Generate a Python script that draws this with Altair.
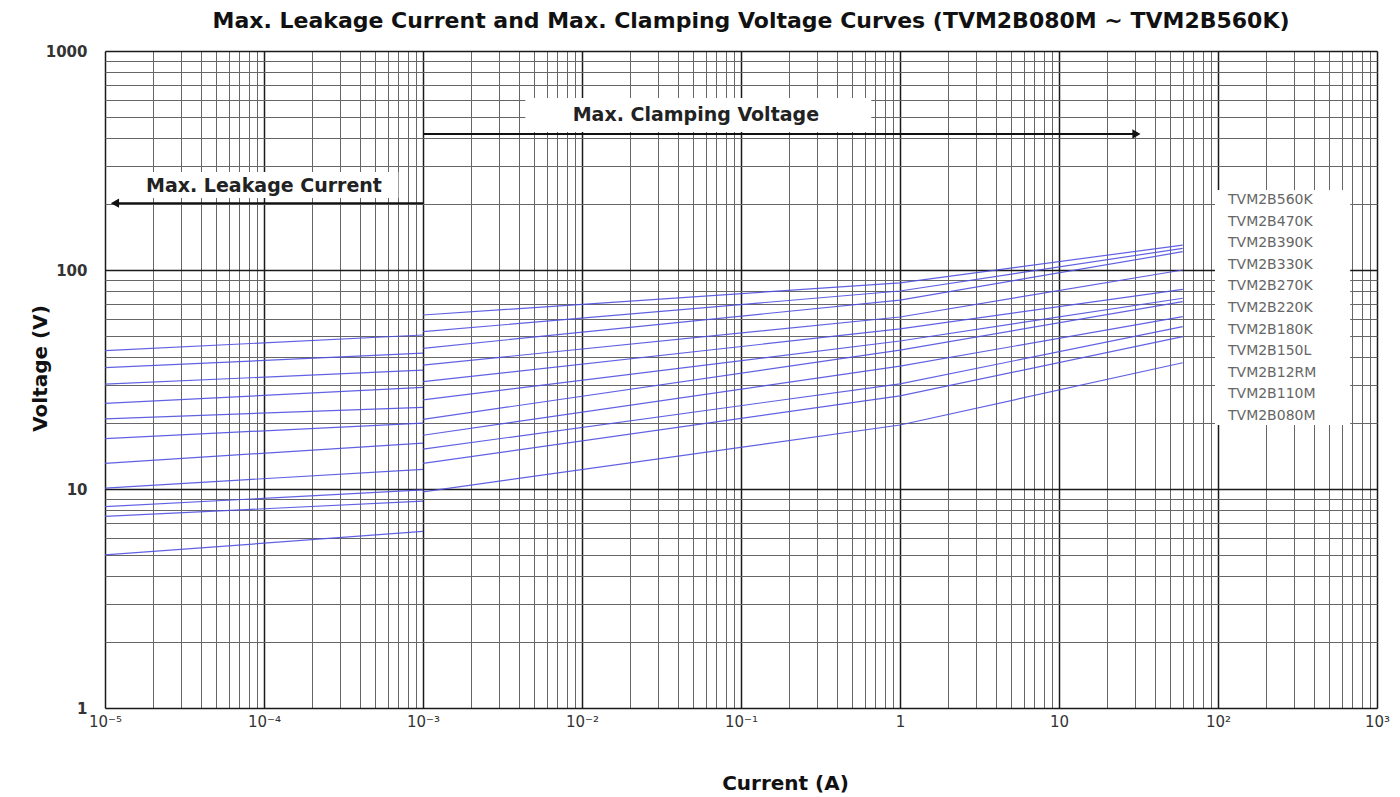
import altair as alt
import pandas as pd

# ---------------- data ----------------
series_names = ["TVM2B560K", "TVM2B470K", "TVM2B390K", "TVM2B330K", "TVM2B270K",
                "TVM2B220K", "TVM2B180K", "TVM2B150L", "TVM2B12RM", "TVM2B110M",
                "TVM2B080M"]

# Max. leakage current curves (current in A, voltage in V)
leak_current = [1e-5, 1e-3]
leak_v_at_10uA = [42.8, 35.8, 30.1, 24.6, 20.9, 17.0, 13.1, 10.1, 8.3, 7.5, 5.0]
leak_v_at_1mA = [50.5, 41.7, 34.9, 29.1, 23.6, 20.0, 16.2, 12.3, 9.9, 8.8, 6.4]

# Max. clamping voltage curves
clamp_current = [1e-3, 1.0, 60.0]
clamp_v_at_1mA = [62.3, 52.3, 43.9, 36.8, 30.9, 25.5, 20.8, 17.6, 15.2, 13.1, 9.7]
clamp_v_at_1A = [87.3, 80.2, 72.9, 61.0, 53.8, 47.4, 43.1, 36.4, 30.2, 26.6, 19.6]
clamp_v_at_60A = [130.0, 125.6, 121.2, 100.0, 81.6, 74.3, 71.7, 61.2, 55.1, 49.6, 37.7]

x_tick_exponents = [-5, -4, -3, -2, -1, 0, 1, 2, 3]
x_tick_labels = ["10⁻⁵", "10⁻⁴", "10⁻³", "10⁻²", "10⁻¹", "1", "10", "10²", "10³"]
y_tick_exponents = [0, 1, 2, 3]
y_tick_labels = ["1", "10", "100", "1000"]

title_text = "Max. Leakage Current and Max. Clamping Voltage Curves (TVM2B080M ~ TVM2B560K)"

# annotations (data coordinates)
clamp_text = ["Max. Clamping Voltage"]
clamp_text_pos = [0.052, 510.0]
clamp_box = [0.0044, 0.66, 427.0, 610.0]
clamp_arrow = [1e-3, 30.7, 418.0]

leak_text = ["Max. Leakage Current"]
leak_text_pos = [1.0e-4, 242.0]
leak_box = [1.44e-5, 7.0e-4, 213.0, 280.0]
leak_arrow = [1.155e-5, 1e-3, 202.0]

legend_box = [95.7, 678.0, 19.6, 232.0]

# ---------------- build tables ----------------
rows = []
for i, name in enumerate(series_names):
    for c, v in zip(leak_current, [leak_v_at_10uA[i], leak_v_at_1mA[i]]):
        rows.append({"series": name, "segment": name + "_leak", "current": c, "voltage": v})
    for c, v in zip(clamp_current, [clamp_v_at_1mA[i], clamp_v_at_1A[i], clamp_v_at_60A[i]]):
        rows.append({"series": name, "segment": name + "_clamp", "current": c, "voltage": v})
curves = pd.DataFrame(rows)

x_grid = [k * 10.0 ** e for e in range(-5, 3) for k in range(1, 10)] + [1000.0]
y_grid = [k * 10.0 ** e for e in range(0, 3) for k in range(1, 10)] + [1000.0]

e_expr = "round(log(datum.value)/LN10)"
major = f"abs(log(datum.value)/LN10 - {e_expr}) < 0.001"
x_label_expr = major + " ? (" + " : ".join(
    f"{e_expr} == {e} ? '{lab}'" for e, lab in zip(x_tick_exponents, x_tick_labels)) + " : '') : ''"
y_label_expr = major + " ? (" + " : ".join(
    f"{e_expr} == {e} ? '{lab}'" for e, lab in zip(y_tick_exponents, y_tick_labels)) + " : '') : ''"

grid_color = {"condition": {"test": major, "value": "#1a1a1a"}, "value": "#666666"}
grid_width = {"condition": {"test": major, "value": 1.5}, "value": 1.0}

FONT = "DejaVu Sans"

x_scale = alt.Scale(type="log", domain=[1e-5, 1000], nice=False)
y_scale = alt.Scale(type="log", domain=[1, 1000], nice=False)

x_axis = alt.Axis(values=x_grid, labelExpr=x_label_expr, ticks=False, domain=False,
                  gridColor=grid_color, gridWidth=grid_width, labelOverlap=False,
                  labelFlush=False, labelFont=FONT, labelFontSize=15,
                  labelColor="#333333", labelPadding=6,
                  title="Current (A)", titleFont=FONT, titleFontSize=20,
                  titleFontWeight="bold", titleColor="#111111",
                  titleX=680, titleY=75, titleBaseline="middle",
                  titleAnchor="middle", titleAlign="center")
y_axis = alt.Axis(values=y_grid, labelExpr=y_label_expr, ticks=False, domain=False,
                  gridColor=grid_color, gridWidth=grid_width, labelOverlap=False,
                  labelFlush=False, labelFont=FONT, labelFontSize=15,
                  labelFontWeight="bold", labelColor="#333333", labelPadding=18,
                  labelBaseline="middle",
                  title="Voltage (V)", titleFont=FONT, titleFontSize=20,
                  titleFontWeight="bold", titleColor="#111111",
                  titleX=-65, titleY=317, titleBaseline="middle",
                  titleAnchor="middle", titleAlign="center", titleAngle=270)

lines = alt.Chart(curves).mark_line(strokeWidth=1.2, opacity=0.9).encode(
    x=alt.X("current:Q", scale=x_scale, axis=x_axis),
    y=alt.Y("voltage:Q", scale=y_scale, axis=y_axis),
    detail="segment:N",
    color=alt.Color("series:N", scale=alt.Scale(domain=series_names,
                                                 range=["#5050e0"] * len(series_names)),
                    legend=alt.Legend(orient="none", legendX=1109, legendY=142,
                                      title=None, symbolOpacity=0, symbolSize=0,
                                      symbolStrokeWidth=0, labelOffset=0,
                                      labelFont=FONT, labelFontSize=14,
                                      labelColor="#666666", rowPadding=7.6,
                                      labelLimit=200)),
)

boxes_df = pd.DataFrame({
    "x1": [clamp_box[0], leak_box[0], legend_box[0]],
    "x2": [clamp_box[1], leak_box[1], legend_box[1]],
    "y1": [clamp_box[2], leak_box[2], legend_box[2]],
    "y2": [clamp_box[3], leak_box[3], legend_box[3]],
})
boxes = alt.Chart(boxes_df).mark_rect(color="white").encode(
    x="x1:Q", x2="x2", y="y1:Q", y2="y2")

arrows_df = pd.DataFrame({
    "x1": [leak_arrow[0], clamp_arrow[0]],
    "x2": [leak_arrow[1], clamp_arrow[1]],
    "y": [leak_arrow[2], clamp_arrow[2]],
})
arrow_lines = alt.Chart(arrows_df).mark_rule(color="#111111", strokeWidth=2).encode(
    x="x1:Q", x2="x2", y="y:Q")

heads_df = pd.DataFrame({
    "x": [leak_arrow[0], clamp_arrow[1]],
    "y": [leak_arrow[2], clamp_arrow[2]],
    "shape": ["triangle-left", "triangle-right"],
})
arrow_heads = alt.Chart(heads_df).mark_point(filled=True, color="#111111", size=90,
                                             opacity=1).encode(
    x="x:Q", y="y:Q",
    shape=alt.Shape("shape:N", scale=None))

texts_df = pd.DataFrame({
    "label": clamp_text + leak_text,
    "x": [clamp_text_pos[0], leak_text_pos[0]],
    "y": [clamp_text_pos[1], leak_text_pos[1]],
    "size": [19, 19],
})
texts = alt.Chart(texts_df).mark_text(font=FONT, fontWeight="bold",
                                      color="#222222", align="center",
                                      baseline="middle").encode(
    x="x:Q", y="y:Q", text="label:N", size=alt.Size("size:Q", scale=None))

chart = alt.layer(lines, boxes, arrow_lines, arrow_heads, texts).properties(
    width=1272, height=657,
    padding={"left": 97, "top": 43, "right": 15, "bottom": 89},
    autosize=alt.AutoSizeParams(type="none"),
    title=alt.TitleParams(text=title_text, font=FONT, fontSize=22,
                          fontWeight="bold", color="#111111", anchor="middle",
                          offset=11, dx=10),
).configure_view(stroke=None).configure(background="white")

chart.save("out.html", embed_options={"renderer": "svg", "actions": False})
